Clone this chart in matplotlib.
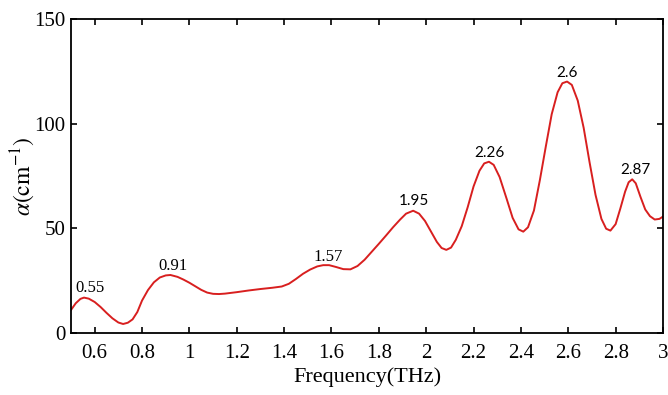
import matplotlib
matplotlib.use("Agg")
import matplotlib.pyplot as plt

# absorption spectrum
freq = [0.500, 0.520, 0.540, 0.555, 0.575, 0.600, 0.625, 0.650, 0.675, 0.700,
        0.720, 0.740, 0.760, 0.780, 0.800, 0.825, 0.850, 0.875, 0.900, 0.920,
        0.950, 0.975, 1.000, 1.025, 1.050, 1.075, 1.100, 1.125, 1.150, 1.200,
        1.250, 1.300, 1.350, 1.390, 1.420, 1.450, 1.480, 1.510, 1.540, 1.565,
        1.590, 1.620, 1.650, 1.680, 1.710, 1.740, 1.770, 1.800, 1.830, 1.860,
        1.890, 1.915, 1.945, 1.970, 1.995, 2.020, 2.045, 2.065, 2.085, 2.105,
        2.125, 2.150, 2.175, 2.200, 2.225, 2.245, 2.265, 2.285, 2.310, 2.340,
        2.365, 2.390, 2.410, 2.430, 2.455, 2.480, 2.505, 2.530, 2.555, 2.575,
        2.595, 2.615, 2.640, 2.665, 2.690, 2.715, 2.740, 2.760, 2.778, 2.800,
        2.820, 2.840, 2.855, 2.870, 2.885, 2.905, 2.925, 2.945, 2.965, 2.985,
        3.000]
alpha = [11.0, 14.2, 16.3, 16.9, 16.4, 14.8, 12.4, 9.6, 7.0, 5.0,
         4.3, 4.9, 6.5, 10.0, 15.5, 20.5, 24.2, 26.5, 27.5, 27.7,
         26.8, 25.5, 24.0, 22.3, 20.6, 19.3, 18.7, 18.6, 18.8, 19.5,
         20.3, 21.0, 21.6, 22.2, 23.5, 25.8, 28.3, 30.3, 31.8, 32.4,
         32.4, 31.5, 30.5, 30.4, 32.0, 35.0, 38.8, 42.6, 46.5, 50.5,
         54.2, 57.0, 58.4, 57.0, 53.5, 48.5, 43.5, 40.6, 39.7, 40.8,
         44.5, 51.0, 60.0, 70.0, 77.5, 81.0, 81.8, 80.3, 74.5, 64.0,
         55.0, 49.5, 48.4, 50.5, 58.5, 73.0, 89.0, 104.5, 115.0, 119.3,
         120.1, 118.5, 111.0, 98.0, 81.5, 66.0, 54.5, 49.8, 48.9, 52.0,
         59.5, 67.5, 72.0, 73.4, 71.5, 65.0, 59.0, 55.8, 54.2, 54.5,
         55.6]

peak_labels = ["0.55", "0.91", "1.57", "1.95", "2.26", "2.6", "2.87"]
peak_x = [0.580, 0.929, 1.585, 1.946, 2.267, 2.596, 2.882]
peak_y = [21.5, 32.0, 36.5, 63.2, 85.9, 124.4, 77.9]
serif_peaks = ["0.55", "0.91", "1.57"]

xticks = [0.6, 0.8, 1.0, 1.2, 1.4, 1.6, 1.8, 2.0, 2.2, 2.4, 2.6, 2.8, 3.0]
xtick_labels = ["0.6", "0.8", "1", "1.2", "1.4", "1.6", "1.8", "2",
                "2.2", "2.4", "2.6", "2.8", "3"]
yticks = [0, 50, 100, 150]

plt.rcParams["font.family"] = ["Liberation Serif", "DejaVu Serif"]
plt.rcParams["mathtext.fontset"] = "stix"

fig = plt.figure(figsize=(6.68, 3.95), dpi=100)
ax = fig.add_axes([0.1063, 0.157, 0.8862, 0.795])

ax.plot(freq, alpha, color="#d81f1f", lw=1.4)

for lab, x, y in zip(peak_labels, peak_x, peak_y):
    if lab in serif_peaks:
        ax.text(x, y, lab, ha="center", va="center", fontsize=12,
                family=["Liberation Serif"])
    else:
        ax.text(x, y, lab, ha="center", va="center", fontsize=11,
                family=["Lato", "DejaVu Sans"])

ax.set_xlim(0.5, 3.0)
ax.set_ylim(0, 150)
ax.set_xticks(xticks)
ax.set_xticklabels(xtick_labels)
ax.set_yticks(yticks)
ax.tick_params(direction="in", length=4.5, width=1.2, labelsize=15,
               top=True, right=True)
ax.tick_params(axis="x", pad=8)
ax.tick_params(axis="y", pad=4)
for s in ax.spines.values():
    s.set_linewidth(1.3)

ax.set_xlabel("Frequency(THz)", fontsize=16, labelpad=3)
ax.set_ylabel(r"$\alpha(\mathrm{cm}^{-1})$", fontsize=17)
ax.yaxis.set_label_coords(-0.058, 0.5)

fig.savefig("out.png", dpi=100)
